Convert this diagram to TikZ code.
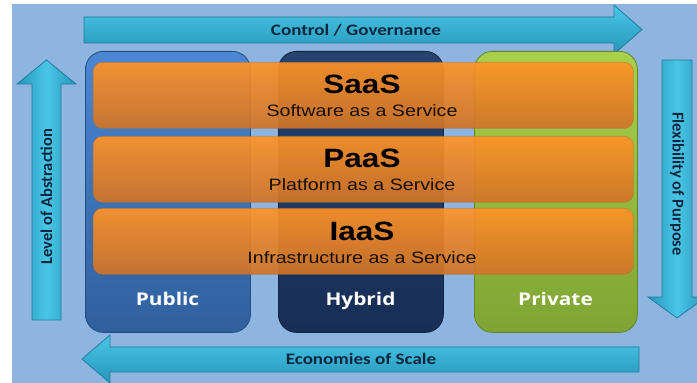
\documentclass[tikz,border=0pt]{standalone}
\usepackage{fontspec}
\setmainfont{Liberation Sans}
\newfontfamily\arrowH{Carlito}[FakeStretch=1.19]
\newfontfamily\arrowV{Carlito}
\newfontfamily\colfont{Open Sans}[FakeStretch=1.19]
\newfontfamily\boxfont{Liberation Sans}[FakeStretch=1.19]
\definecolor{bgblue}{HTML}{8EB4E2}
\definecolor{arLight}{HTML}{4AC6E6}
\definecolor{arDark}{HTML}{2596B9}
\definecolor{arEdge}{HTML}{1F7D9C}
\definecolor{arText}{HTML}{0E2740}
\definecolor{pubTop}{HTML}{4A86D2}
\definecolor{pubBot}{HTML}{30609E}
\definecolor{hybTop}{HTML}{26426F}
\definecolor{hybBot}{HTML}{172E55}
\definecolor{priTop}{HTML}{A8D04A}
\definecolor{priBot}{HTML}{7FA434}
\definecolor{orTop}{HTML}{FF9326}
\definecolor{orMid}{HTML}{F98D26}
\definecolor{orBot}{HTML}{CF7428}
\definecolor{orEdge}{HTML}{B8682A}
\begin{document}
\begin{tikzpicture}[x=1pt,y=1pt,
  arrowshape/.style={draw=arEdge, line width=0.8pt, line join=miter},
  harrow/.style={arrowshape, top color=arLight, bottom color=arDark},
  varrow/.style={arrowshape, left color=arDark, right color=arDark, middle color=arLight},
  arlabelH/.style={text=arText, font=\arrowH\bfseries\fontsize{16}{18}\selectfont, inner sep=0pt},
  arlabelV/.style={text=arText, font=\arrowV\bfseries\fontsize{16.5}{18}\selectfont, inner sep=0pt},
  colbox/.style={line width=0.8pt, rounded corners=18pt, minimum width=165pt, minimum height=281pt, anchor=north west, inner sep=0pt},
  collabel/.style={anchor=base, text=white, font=\colfont\bfseries\fontsize{17.5}{20}\selectfont, inner sep=0pt},
  bar/.style={rounded corners=9pt, minimum width=540pt, minimum height=66pt, anchor=north west, inner sep=0pt,
    top color=orTop, middle color=orMid, bottom color=orBot, fill opacity=0.92, draw=orEdge, draw opacity=0.5, line width=0.6pt},
  bartitle/.style={anchor=base, inner sep=0pt, text=black, font=\boxfont\bfseries\fontsize{26.5}{30}\selectfont},
  barsub/.style={anchor=base, inner sep=0pt, text=black!88!brown, font=\boxfont\fontsize{16.5}{19}\selectfont}
]
\useasboundingbox (0,0) rectangle (697,383);
\fill[white] (0,0) rectangle (697,383);
\fill[bgblue] (12,0) rectangle (697,379);

% top arrow: Control / Governance
\draw[harrow] (84,340) -- (614,340) -- (614,329) -- (642,353.5) -- (614,378) -- (614,366) -- (84,366) -- cycle;
\node[arlabelH] (ctrl) at (356,353) {Control / Governance};

% left arrow: Level of Abstraction
\draw[varrow] (32,63) -- (32,299) -- (17,299) -- (46.5,323) -- (76,299) -- (61,299) -- (61,63) -- cycle;
\node[arlabelV, rotate=90] (abs) at (46.5,186.5) {Level of Abstraction};

% right arrow: Flexibility of Purpose
\draw[varrow] (662,323) -- (662,86) -- (648,86) -- (677,65) -- (706,86) -- (692,86) -- (692,323) -- cycle;
\node[arlabelV, rotate=-90] (flex) at (677,199) {Flexibility of Purpose};

% bottom arrow: Economies of Scale
\draw[harrow] (639,36) -- (110,36) -- (110,48) -- (82,24) -- (110,0) -- (110,11) -- (639,11) -- cycle;
\node[arlabelH] (eco) at (361,24) {Economies of Scale};

% columns
\node[colbox, draw=pubBot!80!black, top color=pubTop, bottom color=pubBot] (public) at (85,332) {};
\node[colbox, draw=hybBot!80!black, top color=hybTop, bottom color=hybBot] (hybrid) at (278,332) {};
\node[colbox, draw=priBot!80!black, top color=priTop, bottom color=priBot, minimum width=163pt] (private) at (474,332) {};
\node[collabel] (publicL) at (167.5,77) {Public};
\node[collabel] (hybridL) at (360.5,77) {Hybrid};
\node[collabel] (privateL) at (555.5,77) {Private};

% service bars
\node[bar] (saas) at (93,321) {};
\node[bar] (paas) at (93,247) {};
\node[bar] (iaas) at (93,175) {};
\node[bartitle] (saasT) at (362,289) {SaaS};
\node[barsub] (saasS) at (362,266) {Software as a Service};
\node[bartitle] (paasT) at (362,215) {PaaS};
\node[barsub] (paasS) at (362,192) {Platform as a Service};
\node[bartitle] (iaasT) at (362,142.5) {IaaS};
\node[barsub] (iaasS) at (362,119.5) {Infrastructure as a Service};
\end{tikzpicture}
\end{document}
